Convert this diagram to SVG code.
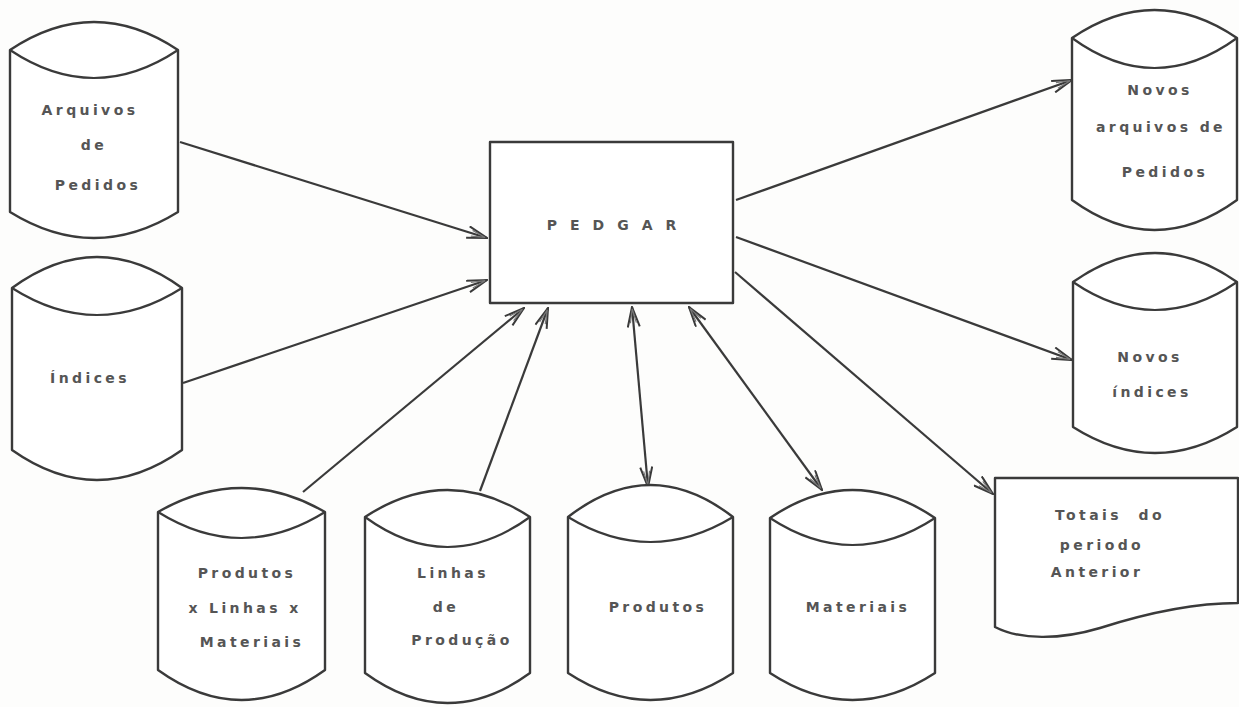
<svg xmlns="http://www.w3.org/2000/svg" width="1239" height="707" viewBox="0 0 1239 707">
<style>
.shape{fill:#fff;stroke:#3a3a3a;stroke-width:2.4;stroke-linejoin:round}
.inner{fill:none;stroke:#3a3a3a;stroke-width:2.2}
.lbl{font-family:"DejaVu Sans",sans-serif;font-size:14px;font-weight:bold;fill:#555;text-anchor:middle;letter-spacing:3.4px}
.conn{fill:none;stroke:#3a3a3a;stroke-width:2.2}
</style>
<defs>
<marker id="arr" viewBox="0 0 22 14" markerWidth="22" markerHeight="14" refX="21" refY="7" orient="auto-start-reverse" markerUnits="userSpaceOnUse">
<path d="M1,1 L21,7 L1,13" fill="none" stroke="#3a3a3a" stroke-width="2"/>
<path d="M5,4 L19,7 L5,10" fill="none" stroke="#777" stroke-width="1.2"/>
</marker>
</defs>
<rect width="1239" height="707" fill="#fdfdfc"/>
<g id="connectors">
<line class="conn" x1="180" y1="142" x2="487" y2="238" marker-end="url(#arr)"/>
<line class="conn" x1="183" y1="383" x2="487" y2="280" marker-end="url(#arr)"/>
<line class="conn" x1="303" y1="492" x2="524" y2="308" marker-end="url(#arr)"/>
<line class="conn" x1="480" y1="491" x2="548" y2="308" marker-end="url(#arr)"/>
<line class="conn" x1="632" y1="307" x2="648" y2="487" marker-start="url(#arr)" marker-end="url(#arr)"/>
<line class="conn" x1="689" y1="307" x2="822" y2="490" marker-start="url(#arr)" marker-end="url(#arr)"/>
<line class="conn" x1="735" y1="272" x2="993" y2="494" marker-end="url(#arr)"/>
<line class="conn" x1="736" y1="237" x2="1072" y2="360" marker-end="url(#arr)"/>
<line class="conn" x1="736" y1="200" x2="1072" y2="80" marker-end="url(#arr)"/>
</g>
<g id="arquivos">
<path class="shape" d="M10,50 Q94,-6 178,50 L178,212 Q94,264 10,212 Z"/>
<path class="inner" d="M10,50 Q94,106 178,50"/>
<text class="lbl" x="90" y="115">Arquivos</text>
<text class="lbl" x="94" y="150">de</text>
<text class="lbl" x="98" y="190">Pedidos</text>
</g>
<g id="indices">
<path class="shape" d="M12,288 Q97,226 182,288 L182,450 Q97,510 12,450 Z"/>
<path class="inner" d="M12,288 Q97,342 182,288"/>
<text class="lbl" x="90" y="383">Índices</text>
</g>
<g id="pedgar">
<rect class="shape" x="490" y="142" width="243" height="161"/>
<text class="lbl" x="618" y="230" style="letter-spacing:13px">PEDGAR</text>
</g>
<g id="prod-linhas-materiais">
<path class="shape" d="M158,512 Q241.5,464 325,512 L325,670 Q241.5,730 158,670 Z"/>
<path class="inner" d="M158,512 Q241.5,564 325,512"/>
<text class="lbl" x="247" y="578">Produtos</text>
<text class="lbl" x="245" y="613">x Linhas x</text>
<text class="lbl" x="252" y="647">Materiais</text>
</g>
<g id="linhas-producao">
<path class="shape" d="M365,517 Q447.5,463 530,517 L530,673 Q447.5,733 365,673 Z"/>
<path class="inner" d="M365,517 Q447.5,577 530,517"/>
<text class="lbl" x="453" y="578">Linhas</text>
<text class="lbl" x="446" y="612">de</text>
<text class="lbl" x="462" y="645">Produção</text>
</g>
<g id="produtos">
<path class="shape" d="M568,517 Q650.5,453 733,517 L733,673 Q650.5,727 568,673 Z"/>
<path class="inner" d="M568,517 Q650.5,567 733,517"/>
<text class="lbl" x="658" y="612">Produtos</text>
</g>
<g id="materiais">
<path class="shape" d="M770,518 Q852.5,462 935,518 L935,673 Q852.5,727 770,673 Z"/>
<path class="inner" d="M770,518 Q852.5,572 935,518"/>
<text class="lbl" x="858" y="612">Materiais</text>
</g>
<g id="novos-arquivos">
<path class="shape" d="M1072,38 Q1154.5,-18 1237,38 L1237,200 Q1154.5,260 1072,200 Z"/>
<path class="inner" d="M1072,38 Q1154.5,98 1237,38"/>
<text class="lbl" x="1160" y="95">Novos</text>
<text class="lbl" x="1161" y="132">arquivos de</text>
<text class="lbl" x="1165" y="177">Pedidos</text>
</g>
<g id="novos-indices">
<path class="shape" d="M1073,282 Q1155,224 1237,282 L1237,427 Q1155,479 1073,427 Z"/>
<path class="inner" d="M1073,282 Q1155,338 1237,282"/>
<text class="lbl" x="1150" y="362">Novos</text>
<text class="lbl" x="1152" y="397">índices</text>
</g>
<g id="totais">
<path class="shape" d="M995,478 L1238,478 L1238,603 C1200,603 1150,612 1100,628 C1060,640 1020,640 995,627 Z"/>
<text class="lbl" x="1110" y="520" xml:space="preserve">Totais  do</text>
<text class="lbl" x="1102" y="550">periodo</text>
<text class="lbl" x="1097" y="577">Anterior</text>
</g>
</svg>
